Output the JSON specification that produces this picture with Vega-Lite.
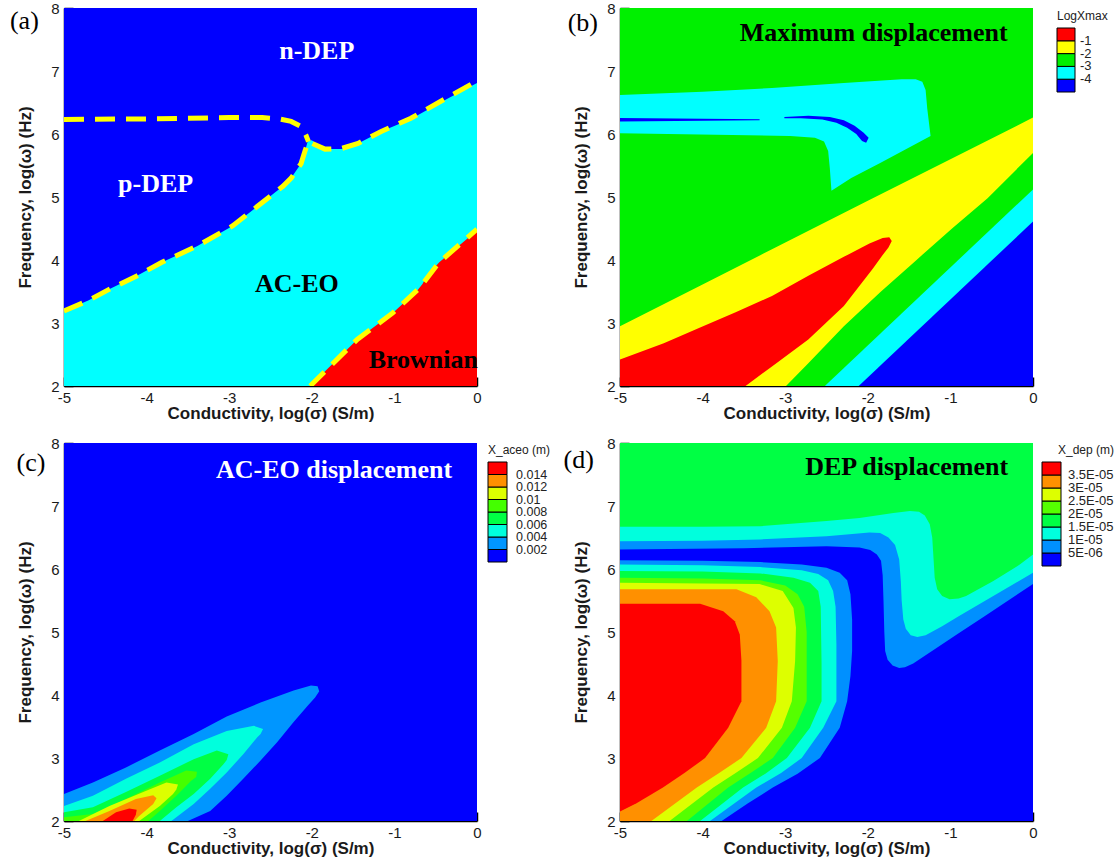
{
"$schema": "https://vega.github.io/schema/vega-lite/v6.json",
"padding": {"left": 9, "top": 1, "right": 2, "bottom": 2},
"background": "white",
"config": {
 "view": {"stroke": null},
 "axis": {"grid": false, "domainColor": "#000", "domainWidth": 1.5, "tickColor": "#000", "tickWidth": 1.5, "labelFont": "Liberation Sans", "labelFontSize": 15, "labelColor": "#1a1a1a", "labelFlush": false, "labelOverlap": false, "titleFont": "Liberation Sans", "titleFontSize": 17, "titleFontWeight": "bold", "titleColor": "#1a1a1a", "zindex": 1},
 "axisX": {"tickSize": -9, "labelPadding": 13, "titlePadding": 0},
 "axisY": {"tickSize": -9, "labelPadding": 14, "titlePadding": 16},
 "legend": {"labelFont": "Liberation Sans", "labelFontSize": 13, "labelColor": "#222", "titleFont": "Liberation Sans", "titleFontSize": 12, "titleFontWeight": "normal", "titleColor": "#222", "gradientStrokeColor": "#000", "gradientStrokeWidth": 1, "labelOverlap": false, "direction": "vertical", "orient": "none"}
},
"datasets": {
 "a_regions": [
  {"g":"bg","v":"DEP","x":-5,"y":2},{"g":"bg","v":"DEP","x":-5,"y":8},{"g":"bg","v":"DEP","x":0,"y":8},{"g":"bg","v":"DEP","x":0,"y":2},
  {"g":"aceo","v":"AC-EO","x":-5,"y":2},{"g":"aceo","v":"AC-EO","x":-5,"y":3.19},{"g":"aceo","v":"AC-EO","x":-4.7,"y":3.36},{"g":"aceo","v":"AC-EO","x":-4.46,"y":3.53},{"g":"aceo","v":"AC-EO","x":-4.1,"y":3.76},{"g":"aceo","v":"AC-EO","x":-3.82,"y":3.96},{"g":"aceo","v":"AC-EO","x":-3.39,"y":4.22},{"g":"aceo","v":"AC-EO","x":-2.96,"y":4.54},{"g":"aceo","v":"AC-EO","x":-2.65,"y":4.86},{"g":"aceo","v":"AC-EO","x":-2.35,"y":5.17},{"g":"aceo","v":"AC-EO","x":-2.25,"y":5.3},{"g":"aceo","v":"AC-EO","x":-2.13,"y":5.53},{"g":"aceo","v":"AC-EO","x":-2.08,"y":5.74},{"g":"aceo","v":"AC-EO","x":-2.05,"y":5.88},{"g":"aceo","v":"AC-EO","x":-2.0,"y":5.9},{"g":"aceo","v":"AC-EO","x":-1.92,"y":5.82},{"g":"aceo","v":"AC-EO","x":-1.84,"y":5.76},{"g":"aceo","v":"AC-EO","x":-1.64,"y":5.76},{"g":"aceo","v":"AC-EO","x":-1.44,"y":5.85},{"g":"aceo","v":"AC-EO","x":-1.16,"y":6.04},{"g":"aceo","v":"AC-EO","x":-0.8,"y":6.24},{"g":"aceo","v":"AC-EO","x":-0.37,"y":6.55},{"g":"aceo","v":"AC-EO","x":0,"y":6.81},{"g":"aceo","v":"AC-EO","x":0,"y":2},
  {"g":"brown","v":"Brownian","x":-2.02,"y":2},{"g":"brown","v":"Brownian","x":-1.45,"y":2.74},{"g":"brown","v":"Brownian","x":-1.02,"y":3.16},{"g":"brown","v":"Brownian","x":-0.72,"y":3.52},{"g":"brown","v":"Brownian","x":-0.66,"y":3.62},{"g":"brown","v":"Brownian","x":-0.62,"y":3.72},{"g":"brown","v":"Brownian","x":-0.54,"y":3.84},{"g":"brown","v":"Brownian","x":-0.46,"y":3.96},{"g":"brown","v":"Brownian","x":0,"y":4.47},{"g":"brown","v":"Brownian","x":0,"y":2}
 ],
 "a_bounds": [
  {"g":"dep","x":-5,"y":6.23},{"g":"dep","x":-4,"y":6.24},{"g":"dep","x":-3,"y":6.26},{"g":"dep","x":-2.6,"y":6.26},{"g":"dep","x":-2.4,"y":6.24},{"g":"dep","x":-2.25,"y":6.2},{"g":"dep","x":-2.13,"y":6.12},{"g":"dep","x":-2.07,"y":5.98},{"g":"dep","x":-2.04,"y":5.88},
  {"g":"aceo","x":-5,"y":3.19},{"g":"aceo","x":-4.7,"y":3.36},{"g":"aceo","x":-4.46,"y":3.53},{"g":"aceo","x":-4.1,"y":3.76},{"g":"aceo","x":-3.82,"y":3.96},{"g":"aceo","x":-3.39,"y":4.22},{"g":"aceo","x":-2.96,"y":4.54},{"g":"aceo","x":-2.65,"y":4.86},{"g":"aceo","x":-2.35,"y":5.17},{"g":"aceo","x":-2.25,"y":5.3},{"g":"aceo","x":-2.13,"y":5.53},{"g":"aceo","x":-2.08,"y":5.74},{"g":"aceo","x":-2.04,"y":5.88},{"g":"aceo","x":-1.98,"y":5.84},{"g":"aceo","x":-1.84,"y":5.76},{"g":"aceo","x":-1.64,"y":5.77},{"g":"aceo","x":-1.44,"y":5.85},{"g":"aceo","x":-1.16,"y":6.04},{"g":"aceo","x":-0.8,"y":6.25},{"g":"aceo","x":-0.37,"y":6.57},{"g":"aceo","x":0,"y":6.84},
  {"g":"brown","x":-2.02,"y":2},{"g":"brown","x":-1.45,"y":2.74},{"g":"brown","x":-1.02,"y":3.16},{"g":"brown","x":-0.7,"y":3.55},{"g":"brown","x":-0.46,"y":3.96},{"g":"brown","x":0,"y":4.49}
 ],
 "b_regions": [
  {"g":"bg","v":-2.5,"x":-5,"y":2},{"g":"bg","v":-2.5,"x":-5,"y":8},{"g":"bg","v":-2.5,"x":0,"y":8},{"g":"bg","v":-2.5,"x":0,"y":2},
  {"g":"hammer","v":-3.5,"x":-5,"y":6.62},{"g":"hammer","v":-3.5,"x":-4,"y":6.67},{"g":"hammer","v":-3.5,"x":-3.16,"y":6.73},{"g":"hammer","v":-3.5,"x":-2.29,"y":6.81},{"g":"hammer","v":-3.5,"x":-1.59,"y":6.87},{"g":"hammer","v":-3.5,"x":-1.42,"y":6.87},{"g":"hammer","v":-3.5,"x":-1.34,"y":6.83},{"g":"hammer","v":-3.5,"x":-1.3,"y":6.7},{"g":"hammer","v":-3.5,"x":-1.28,"y":6.4},{"g":"hammer","v":-3.5,"x":-1.24,"y":5.97},{"g":"hammer","v":-3.5,"x":-1.85,"y":5.54},{"g":"hammer","v":-3.5,"x":-2.2,"y":5.3},{"g":"hammer","v":-3.5,"x":-2.44,"y":5.1},{"g":"hammer","v":-3.5,"x":-2.46,"y":5.46},{"g":"hammer","v":-3.5,"x":-2.48,"y":5.73},{"g":"hammer","v":-3.5,"x":-2.53,"y":5.88},{"g":"hammer","v":-3.5,"x":-2.64,"y":5.94},{"g":"hammer","v":-3.5,"x":-2.94,"y":5.97},{"g":"hammer","v":-3.5,"x":-5,"y":6.01},
  {"g":"streak","v":-4.5,"x":-5,"y":6.255},{"g":"streak","v":-4.5,"x":-3.31,"y":6.235},{"g":"streak","v":-4.5,"x":-3.31,"y":6.22},{"g":"streak","v":-4.5,"x":-5,"y":6.2},
  {"g":"blade","v":-4.5,"x":-3.01,"y":6.27},{"g":"blade","v":-4.5,"x":-2.72,"y":6.29},{"g":"blade","v":-4.5,"x":-2.46,"y":6.27},{"g":"blade","v":-4.5,"x":-2.29,"y":6.22},{"g":"blade","v":-4.5,"x":-2.16,"y":6.13},{"g":"blade","v":-4.5,"x":-2.05,"y":6.02},{"g":"blade","v":-4.5,"x":-1.99,"y":5.94},{"g":"blade","v":-4.5,"x":-2.02,"y":5.86},{"g":"blade","v":-4.5,"x":-2.07,"y":5.89},{"g":"blade","v":-4.5,"x":-2.14,"y":6.0},{"g":"blade","v":-4.5,"x":-2.25,"y":6.1},{"g":"blade","v":-4.5,"x":-2.38,"y":6.18},{"g":"blade","v":-4.5,"x":-2.55,"y":6.23},{"g":"blade","v":-4.5,"x":-2.81,"y":6.25},{"g":"blade","v":-4.5,"x":-3.01,"y":6.25},
  {"g":"yellow","v":-1.5,"x":-5,"y":2},{"g":"yellow","v":-1.5,"x":-5,"y":2.95},{"g":"yellow","v":-1.5,"x":-4.03,"y":3.59},{"g":"yellow","v":-1.5,"x":-3.16,"y":4.17},{"g":"yellow","v":-1.5,"x":-2,"y":4.94},{"g":"yellow","v":-1.5,"x":-1,"y":5.6},{"g":"yellow","v":-1.5,"x":0,"y":6.26},{"g":"yellow","v":-1.5,"x":0,"y":5.7},{"g":"yellow","v":-1.5,"x":-0.55,"y":4.98},{"g":"yellow","v":-1.5,"x":-0.98,"y":4.5},{"g":"yellow","v":-1.5,"x":-1.42,"y":3.99},{"g":"yellow","v":-1.5,"x":-1.85,"y":3.49},{"g":"yellow","v":-1.5,"x":-2.29,"y":2.95},{"g":"yellow","v":-1.5,"x":-2.72,"y":2.36},{"g":"yellow","v":-1.5,"x":-2.99,"y":2},
  {"g":"red","v":-0.5,"x":-5,"y":2},{"g":"red","v":-0.5,"x":-5,"y":2.42},{"g":"red","v":-0.5,"x":-4.47,"y":2.68},{"g":"red","v":-0.5,"x":-4.03,"y":2.93},{"g":"red","v":-0.5,"x":-3.6,"y":3.17},{"g":"red","v":-0.5,"x":-3.16,"y":3.43},{"g":"red","v":-0.5,"x":-2.72,"y":3.75},{"g":"red","v":-0.5,"x":-2.29,"y":4.05},{"g":"red","v":-0.5,"x":-1.98,"y":4.26},{"g":"red","v":-0.5,"x":-1.82,"y":4.35},{"g":"red","v":-0.5,"x":-1.74,"y":4.36},{"g":"red","v":-0.5,"x":-1.71,"y":4.3},{"g":"red","v":-0.5,"x":-1.75,"y":4.2},{"g":"red","v":-0.5,"x":-1.82,"y":4.08},{"g":"red","v":-0.5,"x":-1.94,"y":3.86},{"g":"red","v":-0.5,"x":-2.29,"y":3.27},{"g":"red","v":-0.5,"x":-2.72,"y":2.74},{"g":"red","v":-0.5,"x":-3.16,"y":2.31},{"g":"red","v":-0.5,"x":-3.48,"y":2},
  {"g":"cyanlow","v":-3.5,"x":-2.52,"y":2},{"g":"cyanlow","v":-3.5,"x":0,"y":5.12},{"g":"cyanlow","v":-3.5,"x":0,"y":2},
  {"g":"bluelow","v":-4.5,"x":-2.11,"y":2},{"g":"bluelow","v":-4.5,"x":0,"y":4.61},{"g":"bluelow","v":-4.5,"x":0,"y":2}
 ],
 "c_regions": [
  {"g":"bg","v":0.001,"x":-5,"y":2},{"g":"bg","v":0.001,"x":-5,"y":8},{"g":"bg","v":0.001,"x":0,"y":8},{"g":"bg","v":0.001,"x":0,"y":2},
  {"g":"l1","v":0.003,"x":-5,"y":2},{"g":"l1","v":0.003,"x":-5,"y":2.43},{"g":"l1","v":0.003,"x":-4.65,"y":2.61},{"g":"l1","v":0.003,"x":-4.25,"y":2.85},{"g":"l1","v":0.003,"x":-3.84,"y":3.12},{"g":"l1","v":0.003,"x":-3.43,"y":3.38},{"g":"l1","v":0.003,"x":-3.03,"y":3.66},{"g":"l1","v":0.003,"x":-2.62,"y":3.88},{"g":"l1","v":0.003,"x":-2.22,"y":4.07},{"g":"l1","v":0.003,"x":-2.01,"y":4.15},{"g":"l1","v":0.003,"x":-1.93,"y":4.14},{"g":"l1","v":0.003,"x":-1.91,"y":4.06},{"g":"l1","v":0.003,"x":-1.96,"y":3.96},{"g":"l1","v":0.003,"x":-2.05,"y":3.83},{"g":"l1","v":0.003,"x":-2.22,"y":3.57},{"g":"l1","v":0.003,"x":-2.42,"y":3.25},{"g":"l1","v":0.003,"x":-2.62,"y":2.96},{"g":"l1","v":0.003,"x":-2.83,"y":2.67},{"g":"l1","v":0.003,"x":-3.03,"y":2.4},{"g":"l1","v":0.003,"x":-3.23,"y":2.16},{"g":"l1","v":0.003,"x":-3.5,"y":2},
  {"g":"l2","v":0.005,"x":-5,"y":2},{"g":"l2","v":0.005,"x":-5,"y":2.24},{"g":"l2","v":0.005,"x":-4.65,"y":2.4},{"g":"l2","v":0.005,"x":-4.25,"y":2.67},{"g":"l2","v":0.005,"x":-3.84,"y":2.93},{"g":"l2","v":0.005,"x":-3.43,"y":3.22},{"g":"l2","v":0.005,"x":-3.03,"y":3.43},{"g":"l2","v":0.005,"x":-2.7,"y":3.51},{"g":"l2","v":0.005,"x":-2.59,"y":3.46},{"g":"l2","v":0.005,"x":-2.62,"y":3.38},{"g":"l2","v":0.005,"x":-2.66,"y":3.33},{"g":"l2","v":0.005,"x":-2.83,"y":3.06},{"g":"l2","v":0.005,"x":-3.03,"y":2.77},{"g":"l2","v":0.005,"x":-3.23,"y":2.51},{"g":"l2","v":0.005,"x":-3.43,"y":2.27},{"g":"l2","v":0.005,"x":-3.7,"y":2},
  {"g":"l3","v":0.007,"x":-5,"y":2},{"g":"l3","v":0.007,"x":-5,"y":2.14},{"g":"l3","v":0.007,"x":-4.65,"y":2.22},{"g":"l3","v":0.007,"x":-4.25,"y":2.46},{"g":"l3","v":0.007,"x":-3.84,"y":2.72},{"g":"l3","v":0.007,"x":-3.43,"y":2.98},{"g":"l3","v":0.007,"x":-3.15,"y":3.12},{"g":"l3","v":0.007,"x":-3.01,"y":3.06},{"g":"l3","v":0.007,"x":-3.03,"y":2.97},{"g":"l3","v":0.007,"x":-3.07,"y":2.9},{"g":"l3","v":0.007,"x":-3.23,"y":2.67},{"g":"l3","v":0.007,"x":-3.43,"y":2.43},{"g":"l3","v":0.007,"x":-3.64,"y":2.22},{"g":"l3","v":0.007,"x":-3.84,"y":2},
  {"g":"l4","v":0.009,"x":-5,"y":2},{"g":"l4","v":0.009,"x":-5,"y":2.06},{"g":"l4","v":0.009,"x":-4.65,"y":2.11},{"g":"l4","v":0.009,"x":-4.25,"y":2.35},{"g":"l4","v":0.009,"x":-3.84,"y":2.61},{"g":"l4","v":0.009,"x":-3.52,"y":2.8},{"g":"l4","v":0.009,"x":-3.39,"y":2.78},{"g":"l4","v":0.009,"x":-3.4,"y":2.7},{"g":"l4","v":0.009,"x":-3.46,"y":2.64},{"g":"l4","v":0.009,"x":-3.64,"y":2.4},{"g":"l4","v":0.009,"x":-3.84,"y":2.16},{"g":"l4","v":0.009,"x":-3.98,"y":2},
  {"g":"l5","v":0.011,"x":-4.82,"y":2},{"g":"l5","v":0.011,"x":-4.45,"y":2.24},{"g":"l5","v":0.011,"x":-4.04,"y":2.46},{"g":"l5","v":0.011,"x":-3.76,"y":2.61},{"g":"l5","v":0.011,"x":-3.62,"y":2.58},{"g":"l5","v":0.011,"x":-3.64,"y":2.5},{"g":"l5","v":0.011,"x":-3.68,"y":2.43},{"g":"l5","v":0.011,"x":-3.84,"y":2.24},{"g":"l5","v":0.011,"x":-4.09,"y":2},
  {"g":"l6","v":0.013,"x":-4.74,"y":2},{"g":"l6","v":0.013,"x":-4.45,"y":2.16},{"g":"l6","v":0.013,"x":-4.13,"y":2.35},{"g":"l6","v":0.013,"x":-3.92,"y":2.41},{"g":"l6","v":0.013,"x":-3.88,"y":2.36},{"g":"l6","v":0.013,"x":-3.92,"y":2.27},{"g":"l6","v":0.013,"x":-4.09,"y":2.08},{"g":"l6","v":0.013,"x":-4.15,"y":2},
  {"g":"l7","v":0.015,"x":-4.53,"y":2},{"g":"l7","v":0.015,"x":-4.37,"y":2.14},{"g":"l7","v":0.015,"x":-4.21,"y":2.2},{"g":"l7","v":0.015,"x":-4.12,"y":2.18},{"g":"l7","v":0.015,"x":-4.13,"y":2.1},{"g":"l7","v":0.015,"x":-4.17,"y":2}
 ],
 "d_regions": [
  {"g":"bg","v":1.75e-5,"x":-5,"y":2},{"g":"bg","v":1.75e-5,"x":-5,"y":8},{"g":"bg","v":1.75e-5,"x":0,"y":8},{"g":"bg","v":1.75e-5,"x":0,"y":2},
  {"g":"aq","v":1.25e-5,"x":-5,"y":6.67},{"g":"aq","v":1.25e-5,"x":-4,"y":6.67},{"g":"aq","v":1.25e-5,"x":-3.3,"y":6.68},{"g":"aq","v":1.25e-5,"x":-2.5,"y":6.76},{"g":"aq","v":1.25e-5,"x":-2.1,"y":6.81},{"g":"aq","v":1.25e-5,"x":-1.69,"y":6.89},{"g":"aq","v":1.25e-5,"x":-1.49,"y":6.92},{"g":"aq","v":1.25e-5,"x":-1.38,"y":6.91},{"g":"aq","v":1.25e-5,"x":-1.31,"y":6.85},{"g":"aq","v":1.25e-5,"x":-1.25,"y":6.71},{"g":"aq","v":1.25e-5,"x":-1.22,"y":6.5},{"g":"aq","v":1.25e-5,"x":-1.21,"y":6.29},{"g":"aq","v":1.25e-5,"x":-1.19,"y":5.86},{"g":"aq","v":1.25e-5,"x":-1.16,"y":5.68},{"g":"aq","v":1.25e-5,"x":-1.1,"y":5.57},{"g":"aq","v":1.25e-5,"x":-1.01,"y":5.52},{"g":"aq","v":1.25e-5,"x":-0.9,"y":5.53},{"g":"aq","v":1.25e-5,"x":-0.81,"y":5.57},{"g":"aq","v":1.25e-5,"x":-0.48,"y":5.81},{"g":"aq","v":1.25e-5,"x":-0.16,"y":6.07},{"g":"aq","v":1.25e-5,"x":0,"y":6.23},{"g":"aq","v":1.25e-5,"x":0,"y":2},{"g":"aq","v":1.25e-5,"x":-4.03,"y":2},{"g":"aq","v":1.25e-5,"x":-3.51,"y":2.53},{"g":"aq","v":1.25e-5,"x":-3.24,"y":2.75},{"g":"aq","v":1.25e-5,"x":-2.98,"y":3.0},{"g":"aq","v":1.25e-5,"x":-2.7,"y":3.48},{"g":"aq","v":1.25e-5,"x":-2.56,"y":3.9},{"g":"aq","v":1.25e-5,"x":-2.56,"y":4.5},{"g":"aq","v":1.25e-5,"x":-2.57,"y":5.4},{"g":"aq","v":1.25e-5,"x":-2.6,"y":5.65},{"g":"aq","v":1.25e-5,"x":-2.7,"y":5.78},{"g":"aq","v":1.25e-5,"x":-2.9,"y":5.86},{"g":"aq","v":1.25e-5,"x":-3.3,"y":5.93},{"g":"aq","v":1.25e-5,"x":-4,"y":5.96},{"g":"aq","v":1.25e-5,"x":-5,"y":5.97},
  {"g":"lb","v":7.5e-6,"x":-5,"y":6.44},{"g":"lb","v":7.5e-6,"x":-4,"y":6.45},{"g":"lb","v":7.5e-6,"x":-3.3,"y":6.47},{"g":"lb","v":7.5e-6,"x":-2.5,"y":6.52},{"g":"lb","v":7.5e-6,"x":-1.98,"y":6.58},{"g":"lb","v":7.5e-6,"x":-1.85,"y":6.57},{"g":"lb","v":7.5e-6,"x":-1.75,"y":6.5},{"g":"lb","v":7.5e-6,"x":-1.67,"y":6.38},{"g":"lb","v":7.5e-6,"x":-1.62,"y":6.15},{"g":"lb","v":7.5e-6,"x":-1.6,"y":5.8},{"g":"lb","v":7.5e-6,"x":-1.59,"y":5.5},{"g":"lb","v":7.5e-6,"x":-1.57,"y":5.2},{"g":"lb","v":7.5e-6,"x":-1.54,"y":5.05},{"g":"lb","v":7.5e-6,"x":-1.48,"y":4.95},{"g":"lb","v":7.5e-6,"x":-1.4,"y":4.92},{"g":"lb","v":7.5e-6,"x":-1.3,"y":4.95},{"g":"lb","v":7.5e-6,"x":-1.1,"y":5.09},{"g":"lb","v":7.5e-6,"x":-0.9,"y":5.25},{"g":"lb","v":7.5e-6,"x":-0.6,"y":5.48},{"g":"lb","v":7.5e-6,"x":-0.3,"y":5.71},{"g":"lb","v":7.5e-6,"x":0,"y":5.94},{"g":"lb","v":7.5e-6,"x":0,"y":2},{"g":"lb","v":7.5e-6,"x":-3.91,"y":2},{"g":"lb","v":7.5e-6,"x":-3.35,"y":2.53},{"g":"lb","v":7.5e-6,"x":-3.05,"y":2.76},{"g":"lb","v":7.5e-6,"x":-2.8,"y":3.0},{"g":"lb","v":7.5e-6,"x":-2.54,"y":3.48},{"g":"lb","v":7.5e-6,"x":-2.38,"y":3.9},{"g":"lb","v":7.5e-6,"x":-2.38,"y":4.8},{"g":"lb","v":7.5e-6,"x":-2.39,"y":5.4},{"g":"lb","v":7.5e-6,"x":-2.42,"y":5.65},{"g":"lb","v":7.5e-6,"x":-2.48,"y":5.82},{"g":"lb","v":7.5e-6,"x":-2.6,"y":5.92},{"g":"lb","v":7.5e-6,"x":-2.8,"y":5.98},{"g":"lb","v":7.5e-6,"x":-3.3,"y":6.03},{"g":"lb","v":7.5e-6,"x":-4,"y":6.06},{"g":"lb","v":7.5e-6,"x":-5,"y":6.07},
  {"g":"bl","v":2.5e-6,"x":-5,"y":6.31},{"g":"bl","v":2.5e-6,"x":-3.5,"y":6.33},{"g":"bl","v":2.5e-6,"x":-2.5,"y":6.36},{"g":"bl","v":2.5e-6,"x":-2.1,"y":6.34},{"g":"bl","v":2.5e-6,"x":-1.97,"y":6.3},{"g":"bl","v":2.5e-6,"x":-1.89,"y":6.23},{"g":"bl","v":2.5e-6,"x":-1.84,"y":6.13},{"g":"bl","v":2.5e-6,"x":-1.82,"y":5.9},{"g":"bl","v":2.5e-6,"x":-1.81,"y":5.5},{"g":"bl","v":2.5e-6,"x":-1.8,"y":5.0},{"g":"bl","v":2.5e-6,"x":-1.79,"y":4.7},{"g":"bl","v":2.5e-6,"x":-1.76,"y":4.56},{"g":"bl","v":2.5e-6,"x":-1.7,"y":4.47},{"g":"bl","v":2.5e-6,"x":-1.62,"y":4.43},{"g":"bl","v":2.5e-6,"x":-1.55,"y":4.44},{"g":"bl","v":2.5e-6,"x":-1.45,"y":4.5},{"g":"bl","v":2.5e-6,"x":-1.2,"y":4.72},{"g":"bl","v":2.5e-6,"x":-0.9,"y":4.98},{"g":"bl","v":2.5e-6,"x":-0.6,"y":5.24},{"g":"bl","v":2.5e-6,"x":-0.3,"y":5.5},{"g":"bl","v":2.5e-6,"x":0,"y":5.76},{"g":"bl","v":2.5e-6,"x":0,"y":2},{"g":"bl","v":2.5e-6,"x":-3.77,"y":2},{"g":"bl","v":2.5e-6,"x":-3.45,"y":2.28},{"g":"bl","v":2.5e-6,"x":-3.15,"y":2.53},{"g":"bl","v":2.5e-6,"x":-2.85,"y":2.75},{"g":"bl","v":2.5e-6,"x":-2.58,"y":3.0},{"g":"bl","v":2.5e-6,"x":-2.34,"y":3.48},{"g":"bl","v":2.5e-6,"x":-2.25,"y":3.9},{"g":"bl","v":2.5e-6,"x":-2.21,"y":4.3},{"g":"bl","v":2.5e-6,"x":-2.19,"y":4.7},{"g":"bl","v":2.5e-6,"x":-2.19,"y":5.2},{"g":"bl","v":2.5e-6,"x":-2.21,"y":5.6},{"g":"bl","v":2.5e-6,"x":-2.25,"y":5.82},{"g":"bl","v":2.5e-6,"x":-2.34,"y":5.94},{"g":"bl","v":2.5e-6,"x":-2.5,"y":6.02},{"g":"bl","v":2.5e-6,"x":-2.8,"y":6.07},{"g":"bl","v":2.5e-6,"x":-3.3,"y":6.11},{"g":"bl","v":2.5e-6,"x":-4,"y":6.13},{"g":"bl","v":2.5e-6,"x":-5,"y":6.14},
  {"g":"li","v":2.25e-5,"x":-5,"y":5.86},{"g":"li","v":2.25e-5,"x":-4,"y":5.85},{"g":"li","v":2.25e-5,"x":-3.3,"y":5.82},{"g":"li","v":2.25e-5,"x":-3.0,"y":5.74},{"g":"li","v":2.25e-5,"x":-2.85,"y":5.6},{"g":"li","v":2.25e-5,"x":-2.77,"y":5.4},{"g":"li","v":2.25e-5,"x":-2.74,"y":5.0},{"g":"li","v":2.25e-5,"x":-2.74,"y":3.9},{"g":"li","v":2.25e-5,"x":-2.88,"y":3.48},{"g":"li","v":2.25e-5,"x":-3.15,"y":3.0},{"g":"li","v":2.25e-5,"x":-3.42,"y":2.76},{"g":"li","v":2.25e-5,"x":-3.69,"y":2.53},{"g":"li","v":2.25e-5,"x":-4.19,"y":2},{"g":"li","v":2.25e-5,"x":-5,"y":2},
  {"g":"ye","v":2.75e-5,"x":-5,"y":5.78},{"g":"ye","v":2.75e-5,"x":-3.31,"y":5.76},{"g":"ye","v":2.75e-5,"x":-3.03,"y":5.65},{"g":"ye","v":2.75e-5,"x":-2.9,"y":5.38},{"g":"ye","v":2.75e-5,"x":-2.87,"y":5.07},{"g":"ye","v":2.75e-5,"x":-2.88,"y":4.54},{"g":"ye","v":2.75e-5,"x":-2.92,"y":3.9},{"g":"ye","v":2.75e-5,"x":-3.04,"y":3.48},{"g":"ye","v":2.75e-5,"x":-3.33,"y":3.0},{"g":"ye","v":2.75e-5,"x":-3.6,"y":2.76},{"g":"ye","v":2.75e-5,"x":-3.87,"y":2.53},{"g":"ye","v":2.75e-5,"x":-4.4,"y":2},{"g":"ye","v":2.75e-5,"x":-5,"y":2},
  {"g":"or","v":3.25e-5,"x":-5,"y":5.68},{"g":"or","v":3.25e-5,"x":-3.59,"y":5.68},{"g":"or","v":3.25e-5,"x":-3.35,"y":5.55},{"g":"or","v":3.25e-5,"x":-3.19,"y":5.33},{"g":"or","v":3.25e-5,"x":-3.11,"y":5.07},{"g":"or","v":3.25e-5,"x":-3.09,"y":4.54},{"g":"or","v":3.25e-5,"x":-3.11,"y":3.9},{"g":"or","v":3.25e-5,"x":-3.23,"y":3.48},{"g":"or","v":3.25e-5,"x":-3.53,"y":3.0},{"g":"or","v":3.25e-5,"x":-3.8,"y":2.76},{"g":"or","v":3.25e-5,"x":-4.07,"y":2.53},{"g":"or","v":3.25e-5,"x":-4.62,"y":2},{"g":"or","v":3.25e-5,"x":-5,"y":2},
  {"g":"re","v":3.75e-5,"x":-5,"y":5.45},{"g":"re","v":3.75e-5,"x":-4.03,"y":5.45},{"g":"re","v":3.75e-5,"x":-3.75,"y":5.33},{"g":"re","v":3.75e-5,"x":-3.61,"y":5.17},{"g":"re","v":3.75e-5,"x":-3.55,"y":4.96},{"g":"re","v":3.75e-5,"x":-3.53,"y":4.54},{"g":"re","v":3.75e-5,"x":-3.53,"y":3.9},{"g":"re","v":3.75e-5,"x":-3.69,"y":3.48},{"g":"re","v":3.75e-5,"x":-3.97,"y":3.0},{"g":"re","v":3.75e-5,"x":-4.22,"y":2.76},{"g":"re","v":3.75e-5,"x":-4.48,"y":2.53},{"g":"re","v":3.75e-5,"x":-4.8,"y":2.28},{"g":"re","v":3.75e-5,"x":-5,"y":2.15}
 ],
 "notes_light": [
  {"panel":"a","label":"n-DEP","x":-1.94,"y":7.31},{"panel":"a","label":"p-DEP","x":-3.89,"y":5.2},{"panel":"c","label":"AC-EO displacement","x":-1.73,"y":7.57}
 ],
 "notes_dark": [
  {"panel":"a","label":"AC-EO","x":-2.18,"y":3.62},{"panel":"a","label":"Brownian","x":-0.65,"y":2.41},{"panel":"b","label":"Maximum displacement","x":-1.93,"y":7.6},{"panel":"d","label":"DEP displacement","x":-1.53,"y":7.62}
 ],
 "tags": [
  {"panel":"a","label":"(a)","x":-5.48,"y":7.79},{"panel":"b","label":"(b)","x":-5.45,"y":7.76},{"panel":"c","label":"(c)","x":-5.4,"y":7.68},{"panel":"d","label":"(d)","x":-5.5,"y":7.73}
 ]
},
"columns": 2,
"bounds": "flush",
"spacing": {"row": 57, "column": 143},
"resolve": {"scale": {"color": "independent", "x": "independent", "y": "independent"}},
"concat": [
 {
  "width": 413, "height": 378,
  "layer": [
   {"data": {"name": "a_regions"}, "mark": {"type": "line", "filled": true, "clip": true, "strokeWidth": 0},
    "encoding": {
     "x": {"field": "x", "type": "quantitative", "scale": {"domain": [-5, 0], "nice": false, "zero": false}, "axis": {"values": [-5,-4,-3,-2,-1,0], "labelExpr": "datum.value + ''", "title": "Conductivity, log(σ) (S/m)"}},
     "y": {"field": "y", "type": "quantitative", "scale": {"domain": [2, 8], "nice": false, "zero": false}, "axis": {"values": [2,3,4,5,6,7,8], "labelExpr": "datum.value + ''", "title": "Frequency, log(ω) (Hz)"}},
     "color": {"field": "v", "type": "nominal", "scale": {"domain": ["DEP","AC-EO","Brownian"], "range": ["#0000ff","#00ffff","#ff0000"]}, "legend": null},
     "detail": {"field": "g"},
     "order": {"value": null}
    }},
   {"data": {"name": "a_bounds"}, "mark": {"type": "line", "clip": true, "color": "#ffff00", "strokeWidth": 5, "strokeDash": [20, 11]},
    "encoding": {
     "x": {"field": "x", "type": "quantitative", "scale": {"domain": [-5, 0], "nice": false, "zero": false}, "axis": null},
     "y": {"field": "y", "type": "quantitative", "scale": {"domain": [2, 8], "nice": false, "zero": false}, "axis": null},
     "detail": {"field": "g"},
     "order": {"value": null}
    }},
   {"data": {"name": "notes_light"}, "transform": [{"filter": "datum.panel == 'a'"}], "mark": {"type": "text", "font": "Liberation Serif", "fontSize": 26, "fontWeight": "bold", "color": "#ffffff"},
    "encoding": {
     "x": {"field": "x", "type": "quantitative", "scale": {"domain": [-5, 0], "nice": false, "zero": false}, "axis": null},
     "y": {"field": "y", "type": "quantitative", "scale": {"domain": [2, 8], "nice": false, "zero": false}, "axis": null},
     "text": {"field": "label"}
    }},
   {"data": {"name": "notes_dark"}, "transform": [{"filter": "datum.panel == 'a'"}], "mark": {"type": "text", "font": "Liberation Serif", "fontSize": 26, "fontWeight": "bold", "color": "#000000"},
    "encoding": {
     "x": {"field": "x", "type": "quantitative", "scale": {"domain": [-5, 0], "nice": false, "zero": false}, "axis": null},
     "y": {"field": "y", "type": "quantitative", "scale": {"domain": [2, 8], "nice": false, "zero": false}, "axis": null},
     "text": {"field": "label"}
    }},
   {"data": {"name": "tags"}, "transform": [{"filter": "datum.panel == 'a'"}], "mark": {"type": "text", "font": "Liberation Serif", "fontSize": 26, "color": "#000000"},
    "encoding": {
     "x": {"field": "x", "type": "quantitative", "scale": {"domain": [-5, 0], "nice": false, "zero": false}, "axis": {"orient": "bottom", "values": [-4.8,-4.6,-4.4,-4.2,-3.8,-3.6,-3.4,-3.2,-2.8,-2.6,-2.4,-2.2,-1.8,-1.6,-1.4,-1.2,-0.8,-0.6,-0.4,-0.2], "tickSize": -5, "tickWidth": 1, "labels": false, "domain": false, "title": null}},
     "y": {"field": "y", "type": "quantitative", "scale": {"domain": [2, 8], "nice": false, "zero": false}, "axis": {"orient": "left", "values": [2.2,2.4,2.6,2.8,3.2,3.4,3.6,3.8,4.2,4.4,4.6,4.8,5.2,5.4,5.6,5.8,6.2,6.4,6.6,6.8,7.2,7.4,7.6,7.8], "tickSize": -5, "tickWidth": 1, "labels": false, "domain": false, "title": null}},
     "text": {"field": "label"}
    }}
  ],
  "resolve": {"axis": {"x": "independent", "y": "independent"}}
 },
 {
  "width": 413, "height": 378,
  "layer": [
   {"data": {"name": "b_regions"}, "mark": {"type": "line", "filled": true, "clip": true, "strokeWidth": 0},
    "encoding": {
     "x": {"field": "x", "type": "quantitative", "scale": {"domain": [-5, 0], "nice": false, "zero": false}, "axis": {"values": [-5,-4,-3,-2,-1,0], "labelExpr": "datum.value + ''", "title": "Conductivity, log(σ) (S/m)"}},
     "y": {"field": "y", "type": "quantitative", "scale": {"domain": [2, 8], "nice": false, "zero": false}, "axis": {"values": [2,3,4,5,6,7,8], "labelExpr": "datum.value + ''", "title": "Frequency, log(ω) (Hz)"}},
     "color": {"field": "v", "type": "quantitative", "scale": {"type": "quantize", "domain": [-5, 0], "range": ["#0000ff","#00ffff","#00f000","#ffff00","#ff0000"]},
      "legend": {"type": "gradient", "title": "LogXmax", "legendX": 437, "legendY": 3, "gradientLength": 64, "gradientThickness": 18, "labelExpr": "datum.value <= -5 || datum.value >= 0 ? '' : datum.value + ''", "labelFontSize": 13, "labelOffset": 5}},
     "detail": {"field": "g"},
     "order": {"value": null}
    }},
   {"data": {"name": "notes_dark"}, "transform": [{"filter": "datum.panel == 'b'"}], "mark": {"type": "text", "font": "Liberation Serif", "fontSize": 26, "fontWeight": "bold", "color": "#000000"},
    "encoding": {
     "x": {"field": "x", "type": "quantitative", "scale": {"domain": [-5, 0], "nice": false, "zero": false}, "axis": null},
     "y": {"field": "y", "type": "quantitative", "scale": {"domain": [2, 8], "nice": false, "zero": false}, "axis": null},
     "text": {"field": "label"}
    }},
   {"data": {"name": "tags"}, "transform": [{"filter": "datum.panel == 'b'"}], "mark": {"type": "text", "font": "Liberation Serif", "fontSize": 26, "color": "#000000"},
    "encoding": {
     "x": {"field": "x", "type": "quantitative", "scale": {"domain": [-5, 0], "nice": false, "zero": false}, "axis": {"orient": "bottom", "values": [-4.8,-4.6,-4.4,-4.2,-3.8,-3.6,-3.4,-3.2,-2.8,-2.6,-2.4,-2.2,-1.8,-1.6,-1.4,-1.2,-0.8,-0.6,-0.4,-0.2], "tickSize": -5, "tickWidth": 1, "labels": false, "domain": false, "title": null}},
     "y": {"field": "y", "type": "quantitative", "scale": {"domain": [2, 8], "nice": false, "zero": false}, "axis": {"orient": "left", "values": [2.2,2.4,2.6,2.8,3.2,3.4,3.6,3.8,4.2,4.4,4.6,4.8,5.2,5.4,5.6,5.8,6.2,6.4,6.6,6.8,7.2,7.4,7.6,7.8], "tickSize": -5, "tickWidth": 1, "labels": false, "domain": false, "title": null}},
     "text": {"field": "label"}
    }}
  ],
  "resolve": {"axis": {"x": "independent", "y": "independent"}}
 },
 {
  "width": 413, "height": 378,
  "layer": [
   {"data": {"name": "c_regions"}, "mark": {"type": "line", "filled": true, "clip": true, "strokeWidth": 0},
    "encoding": {
     "x": {"field": "x", "type": "quantitative", "scale": {"domain": [-5, 0], "nice": false, "zero": false}, "axis": {"values": [-5,-4,-3,-2,-1,0], "labelExpr": "datum.value + ''", "title": "Conductivity, log(σ) (S/m)"}},
     "y": {"field": "y", "type": "quantitative", "scale": {"domain": [2, 8], "nice": false, "zero": false}, "axis": {"values": [2,3,4,5,6,7,8], "labelExpr": "datum.value + ''", "title": "Frequency, log(ω) (Hz)"}},
     "color": {"field": "v", "type": "quantitative", "scale": {"type": "quantize", "domain": [0, 0.016], "range": ["#0000ff","#0096ff","#00ffdd","#00ff44","#44ff00","#ddff00","#ff9000","#ff0000"]},
      "legend": {"type": "gradient", "title": "X_aceo (m)", "legendX": 424, "legendY": 2, "gradientLength": 100, "gradientThickness": 19, "labelExpr": "datum.value <= 0 || datum.value >= 0.016 ? '' : format(datum.value, '.3~f')", "labelFontSize": 12.5, "labelOffset": 9}},
     "detail": {"field": "g"},
     "order": {"value": null}
    }},
   {"data": {"name": "notes_light"}, "transform": [{"filter": "datum.panel == 'c'"}], "mark": {"type": "text", "font": "Liberation Serif", "fontSize": 26, "fontWeight": "bold", "color": "#ffffff"},
    "encoding": {
     "x": {"field": "x", "type": "quantitative", "scale": {"domain": [-5, 0], "nice": false, "zero": false}, "axis": null},
     "y": {"field": "y", "type": "quantitative", "scale": {"domain": [2, 8], "nice": false, "zero": false}, "axis": null},
     "text": {"field": "label"}
    }},
   {"data": {"name": "tags"}, "transform": [{"filter": "datum.panel == 'c'"}], "mark": {"type": "text", "font": "Liberation Serif", "fontSize": 26, "color": "#000000"},
    "encoding": {
     "x": {"field": "x", "type": "quantitative", "scale": {"domain": [-5, 0], "nice": false, "zero": false}, "axis": {"orient": "bottom", "values": [-4.8,-4.6,-4.4,-4.2,-3.8,-3.6,-3.4,-3.2,-2.8,-2.6,-2.4,-2.2,-1.8,-1.6,-1.4,-1.2,-0.8,-0.6,-0.4,-0.2], "tickSize": -5, "tickWidth": 1, "labels": false, "domain": false, "title": null}},
     "y": {"field": "y", "type": "quantitative", "scale": {"domain": [2, 8], "nice": false, "zero": false}, "axis": {"orient": "left", "values": [2.2,2.4,2.6,2.8,3.2,3.4,3.6,3.8,4.2,4.4,4.6,4.8,5.2,5.4,5.6,5.8,6.2,6.4,6.6,6.8,7.2,7.4,7.6,7.8], "tickSize": -5, "tickWidth": 1, "labels": false, "domain": false, "title": null}},
     "text": {"field": "label"}
    }}
  ],
  "resolve": {"axis": {"x": "independent", "y": "independent"}}
 },
 {
  "width": 413, "height": 378,
  "layer": [
   {"data": {"name": "d_regions"}, "mark": {"type": "line", "filled": true, "clip": true, "strokeWidth": 0},
    "encoding": {
     "x": {"field": "x", "type": "quantitative", "scale": {"domain": [-5, 0], "nice": false, "zero": false}, "axis": {"values": [-5,-4,-3,-2,-1,0], "labelExpr": "datum.value + ''", "title": "Conductivity, log(σ) (S/m)"}},
     "y": {"field": "y", "type": "quantitative", "scale": {"domain": [2, 8], "nice": false, "zero": false}, "axis": {"values": [2,3,4,5,6,7,8], "labelExpr": "datum.value + ''", "title": "Frequency, log(ω) (Hz)"}},
     "color": {"field": "v", "type": "quantitative", "scale": {"type": "quantize", "domain": [0, 0.00004], "range": ["#0000ff","#0090ff","#00ffdd","#00ff44","#55ff00","#ddff00","#ff9000","#ff0000"]},
      "legend": {"type": "gradient", "title": "X_dep (m)", "titleAnchor": "end", "legendX": 422, "legendY": 2, "gradientLength": 104, "gradientThickness": 19, "labelExpr": "datum.value <= 0 || datum.value >= 0.00004 ? '' : (datum.value < 0.0000075 ? '5E-06' : format(datum.value * 100000, '.2~f') + 'E-05')", "labelOffset": 7}},
     "detail": {"field": "g"},
     "order": {"value": null}
    }},
   {"data": {"name": "notes_dark"}, "transform": [{"filter": "datum.panel == 'd'"}], "mark": {"type": "text", "font": "Liberation Serif", "fontSize": 26, "fontWeight": "bold", "color": "#000000"},
    "encoding": {
     "x": {"field": "x", "type": "quantitative", "scale": {"domain": [-5, 0], "nice": false, "zero": false}, "axis": null},
     "y": {"field": "y", "type": "quantitative", "scale": {"domain": [2, 8], "nice": false, "zero": false}, "axis": null},
     "text": {"field": "label"}
    }},
   {"data": {"name": "tags"}, "transform": [{"filter": "datum.panel == 'd'"}], "mark": {"type": "text", "font": "Liberation Serif", "fontSize": 26, "color": "#000000"},
    "encoding": {
     "x": {"field": "x", "type": "quantitative", "scale": {"domain": [-5, 0], "nice": false, "zero": false}, "axis": {"orient": "bottom", "values": [-4.8,-4.6,-4.4,-4.2,-3.8,-3.6,-3.4,-3.2,-2.8,-2.6,-2.4,-2.2,-1.8,-1.6,-1.4,-1.2,-0.8,-0.6,-0.4,-0.2], "tickSize": -5, "tickWidth": 1, "labels": false, "domain": false, "title": null}},
     "y": {"field": "y", "type": "quantitative", "scale": {"domain": [2, 8], "nice": false, "zero": false}, "axis": {"orient": "left", "values": [2.2,2.4,2.6,2.8,3.2,3.4,3.6,3.8,4.2,4.4,4.6,4.8,5.2,5.4,5.6,5.8,6.2,6.4,6.6,6.8,7.2,7.4,7.6,7.8], "tickSize": -5, "tickWidth": 1, "labels": false, "domain": false, "title": null}},
     "text": {"field": "label"}
    }}
  ],
  "resolve": {"axis": {"x": "independent", "y": "independent"}}
 }
]
}
